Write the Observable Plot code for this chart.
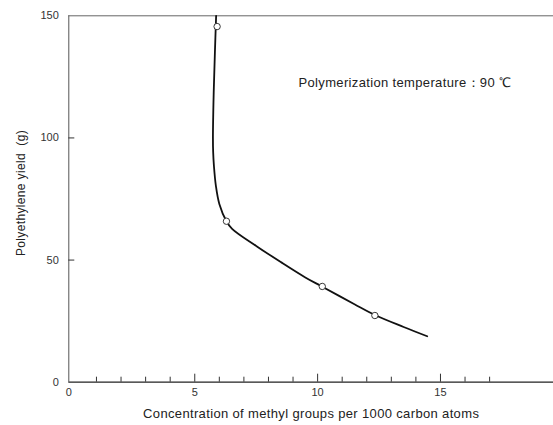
<!DOCTYPE html>
<html><head><meta charset="utf-8">
<script src="https://cdn.jsdelivr.net/npm/d3@7"></script>
<script src="https://cdn.jsdelivr.net/npm/@observablehq/plot@0.6"></script>
<style>
body{margin:0;background:#fff}
g[aria-label="text"] text{letter-spacing:0.35px}
</style>
</head><body><div id="chart"></div>
<script>
// Fitted curve
const curveX = [5.87, 5.82, 5.77, 5.74, 5.75, 5.78, 5.86, 6.00, 6.29, 6.52, 7.5, 8.5, 9.5, 10.19, 11.5, 12.33, 13.5, 14.46];
const curveY = [150, 135, 118, 100, 94, 88.6, 80.4, 73, 65.9, 62.8, 55.8, 49.2, 42.9, 39.1, 31.9, 27.5, 22.6, 18.8];
// Measured points (open circles)
const pointsX = [5.91, 6.29, 10.19, 12.33];
const pointsY = [145.6, 65.9, 39.2, 27.3];
// Ticks
const xTickLabels = [0, 5, 10, 15];
const xMinorTicks = [1, 2, 3, 4, 6, 7, 8, 9, 11, 12, 13, 14, 16, 17];
const xMajorTicks = [5, 10, 15];
const yTickLabels = [0, 50, 100, 150];
const yInnerTicks = [50, 100];
const xLabel = "Concentration of methyl groups per 1000 carbon atoms";
const yLabel = "Polyethylene yield\u00a0\u00a0(g)";
const note = "Polymerization temperature\uff1a90 \u2103";
const noteX = 9.22, noteY = 122.7;

const W = 553, H = 425, mL = 68.3, mT = 15.3, mB = 43.3, mR = 0;
const xMin = -0.126, xMax = 19.6, yMin = 0, yMax = 150;
const pxX = (W - mL - mR) / (xMax - xMin), pxY = (H - mT - mB) / (yMax - yMin);

const curve = curveX.map((x, i) => ({x, y: curveY[i]}));
const points = pointsX.map((x, i) => ({x, y: pointsY[i]}));
const font = "'Liberation Sans', Arial, Helvetica, sans-serif";

const chart = Plot.plot({
  width: W, height: H,
  marginLeft: mL, marginTop: mT, marginBottom: mB, marginRight: mR,
  style: {fontFamily: font, fontSize: "11px", color: "#333", background: "#fff"},
  x: {domain: [xMin, xMax], axis: null},
  y: {domain: [yMin, yMax], axis: null},
  marks: [
    Plot.ruleX([xMin], {y1: yMin, y2: yMax, stroke: "#555", strokeWidth: 1}),
    Plot.ruleY([yMax], {x1: xMin, x2: xMax, stroke: "#666", strokeWidth: 1}),
    Plot.ruleY([yMin], {x1: xMin, x2: xMax, stroke: "#222", strokeWidth: 1.2}),
    Plot.ruleX(xMinorTicks, {y1: 0, y2: 5 / pxY, stroke: "#333", strokeWidth: 1}),
    Plot.ruleX(xMajorTicks, {y1: 0, y2: 8 / pxY, stroke: "#333", strokeWidth: 1}),
    Plot.ruleY(yInnerTicks, {x1: xMin, x2: xMin + 6 / pxX, stroke: "#333", strokeWidth: 1}),
    Plot.axisX(xTickLabels.filter(d => d !== 0), {tickSize: 0, tickPadding: 6, label: null, fontSize: 11}),
    Plot.axisX(xTickLabels.filter(d => d === 0), {tickSize: 0, tickPadding: 6, label: null, fontSize: 11, dx: -3}),
    Plot.axisY(yTickLabels, {tickSize: 0, tickPadding: 7, label: null, fontSize: 11, dx: -3}),
    Plot.line(curve, {x: "x", y: "y", curve: "catmull-rom", stroke: "#111", strokeWidth: 1.8}),
    Plot.dot(points, {x: "x", y: "y", r: 3.2, fill: "white", stroke: "#222", strokeWidth: 0.9}),
    Plot.text([note], {x: noteX, y: noteY, text: d => d, textAnchor: "start", fontSize: 13, fill: "#222"}),
    Plot.text([xLabel], {frameAnchor: "bottom", text: d => d, dy: 36, fontSize: 13, fill: "#222"}),
    Plot.text([yLabel], {x: xMin - 48 / pxX, y: (yMax - yMin) / 2 + 6 / pxY, text: d => d, rotate: -90, fontSize: 12, fill: "#222"})
  ]
});
document.getElementById("chart").appendChild(chart);
</script>
</body></html>
